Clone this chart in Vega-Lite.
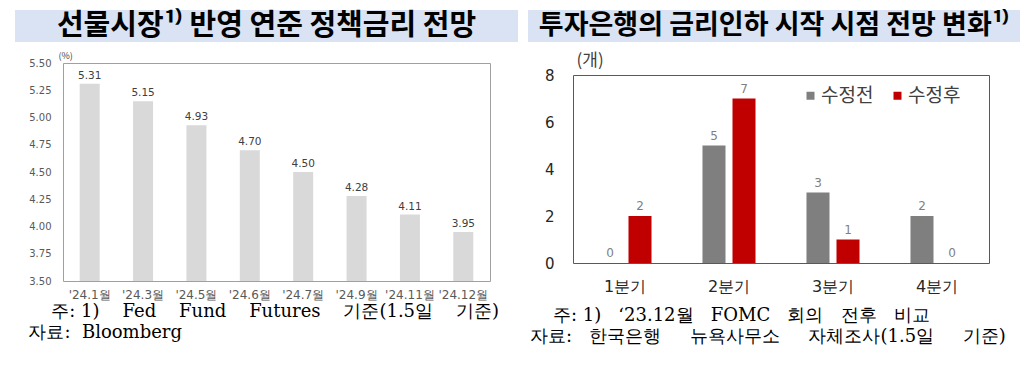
{
  "$schema": "https://vega.github.io/schema/vega-lite/v6.json",
  "background": "white",
  "padding": {"left": 15, "top": 10, "right": 0, "bottom": 0},
  "config": {
    "font": "Noto Sans CJK KR",
    "axis": {"labelFont": "DejaVu Sans", "titleFont": "Noto Sans CJK KR"},
    "legend": {"labelFont": "Noto Sans CJK KR"}
  },
  "spacing": 10,
  "resolve": {"legend": {"color": "independent"}},
  "hconcat": [
    {
      "spacing": 8,
      "vconcat": [
        {
          "width": 503,
          "height": 32,
          "view": {"fill": "#dae3f3", "stroke": null},
          "data": {"values": [{"t": "선물시장¹⁾ 반영 연준 정책금리 전망"}]},
          "mark": {"type": "text", "fontSize": 29, "fontWeight": "bold", "color": "#000000", "baseline": "middle", "align": "center"},
          "encoding": {"text": {"field": "t"}}
        },
        {
          "spacing": 0,
          "hconcat": [
            {"width": 1, "height": 1, "view": {"stroke": null}, "data": {"values": []}, "mark": "point"},
            {
              "width": 427,
              "height": 218,
              "view": {"stroke": "#a0a0a0", "strokeWidth": 1},
              "title": {
                "text": ["\u200b\u00a0\u00a0\u00a0\u00a0\u00a0\u00a0주: 1)\u00a0\u00a0\u00a0 Fed\u00a0\u00a0\u00a0 Fund\u00a0\u00a0\u00a0 Futures\u00a0\u00a0\u00a0 기준(1.5일\u00a0\u00a0\u00a0 기준)", "\u200b\u00a0\u00a0자료:\u00a0 Bloomberg"],
                "orient": "bottom", "anchor": "start", "frame": "group", "dx": -46, "offset": 3,
                "font": "DejaVu Serif", "fontSize": 18, "fontWeight": "normal", "color": "#000000", "lineHeight": 21
              },
              "data": {"values": [
                {"m": "'24.1월", "v": 5.31},
                {"m": "'24.3월", "v": 5.15},
                {"m": "'24.5월", "v": 4.93},
                {"m": "'24.6월", "v": 4.70},
                {"m": "'24.7월", "v": 4.50},
                {"m": "'24.9월", "v": 4.28},
                {"m": "'24.11월", "v": 4.11},
                {"m": "'24.12월", "v": 3.95}
              ]},
              "encoding": {
                "x": {"field": "m", "type": "nominal", "sort": null,
                  "scale": {"paddingInner": 0.625, "paddingOuter": 0.3125},
                  "axis": {"title": null, "domain": false, "ticks": false, "labelAngle": 0, "labelFontSize": 12, "labelColor": "#595959", "labelPadding": 8}},
                "y": {"field": "v", "type": "quantitative",
                  "scale": {"domain": [3.5, 5.5], "nice": false, "zero": false},
                  "axis": {"title": "(%)", "titleAngle": 0, "titleAlign": "left", "titleBaseline": "bottom", "titleX": -5, "titleY": -3, "titleFontSize": 9, "titleFontWeight": "normal", "titleColor": "#404040",
                    "values": [3.5, 3.75, 4, 4.25, 4.5, 4.75, 5, 5.25, 5.5], "format": ".2f", "domain": false, "ticks": false, "grid": false, "labelFontSize": 10, "labelColor": "#595959", "labelPadding": 12}}
              },
              "layer": [
                {"mark": {"type": "bar", "color": "#d9d9d9"}, "encoding": {"y2": {"datum": 3.5}}},
                {"mark": {"type": "text", "font": "DejaVu Sans", "fontSize": 10.5, "color": "#404040", "baseline": "alphabetic", "dy": -5}, "encoding": {"text": {"field": "v", "type": "quantitative", "format": ".2f"}}}
              ]
            }
          ]
        }
      ]
    },
    {
      "spacing": 8,
      "resolve": {"legend": {"color": "independent"}},
      "vconcat": [
        {
          "width": 492,
          "height": 32,
          "view": {"fill": "#dae3f3", "stroke": null},
          "data": {"values": [{"t": "투자은행의 금리인하 시작 시점 전망 변화¹⁾"}]},
          "mark": {"type": "text", "fontSize": 27, "fontWeight": "bold", "color": "#000000", "baseline": "middle", "align": "center"},
          "encoding": {"text": {"field": "t"}}
        },
        {
          "spacing": 0,
          "resolve": {"legend": {"color": "independent"}},
          "hconcat": [
            {"width": 1, "height": 1, "view": {"stroke": null}, "data": {"values": []}, "mark": "point"},
            {
              "width": 416,
              "height": 188,
              "view": {"stroke": "#595959", "strokeWidth": 1},
              "title": {
                "text": ["\u200b\u00a0\u00a0\u00a0\u00a0주: 1)\u00a0\u00a0 ‘23.12월\u00a0\u00a0 FOMC\u00a0\u00a0 회의\u00a0\u00a0 전후\u00a0\u00a0 비교", "자료:\u00a0\u00a0 한국은행\u00a0\u00a0\u00a0\u00a0 뉴욕사무소\u00a0\u00a0\u00a0\u00a0 자체조사(1.5일\u00a0\u00a0\u00a0\u00a0 기준)"],
                "orient": "bottom", "anchor": "start", "frame": "group", "dx": -43, "offset": 13,
                "font": "DejaVu Serif", "fontSize": 18, "fontWeight": "normal", "color": "#000000", "lineHeight": 21
              },
              "data": {"values": [
                {"q": "1분기", "s": "수정전", "n": 0},
                {"q": "1분기", "s": "수정후", "n": 2},
                {"q": "2분기", "s": "수정전", "n": 5},
                {"q": "2분기", "s": "수정후", "n": 7},
                {"q": "3분기", "s": "수정전", "n": 3},
                {"q": "3분기", "s": "수정후", "n": 1},
                {"q": "4분기", "s": "수정전", "n": 2},
                {"q": "4분기", "s": "수정후", "n": 0}
              ]},
              "encoding": {
                "x": {"field": "q", "type": "nominal", "sort": null,
                  "scale": {"paddingInner": 0.49, "paddingOuter": 0.245},
                  "axis": {"title": null, "domain": false, "ticks": false, "labelAngle": 0, "labelFontSize": 16, "labelColor": "#262626", "labelPadding": 15}},
                "xOffset": {"field": "s", "type": "nominal", "sort": ["수정전", "수정후"], "scale": {"paddingInner": 0.233, "paddingOuter": 0}},
                "y": {"field": "n", "type": "quantitative",
                  "scale": {"domain": [0, 8], "nice": false},
                  "axis": {"title": "(개)", "titleAngle": 0, "titleAlign": "left", "titleBaseline": "bottom", "titleX": 3, "titleY": -6, "titleFontSize": 17, "titleFontWeight": "normal", "titleColor": "#404040",
                    "values": [0, 2, 4, 6, 8], "domain": false, "ticks": false, "grid": false, "labelFontSize": 15, "labelColor": "#262626", "labelPadding": 19}}
              },
              "layer": [
                {"mark": {"type": "bar"},
                 "encoding": {"color": {"field": "s", "type": "nominal",
                   "scale": {"domain": ["수정전", "수정후"], "range": ["#7f7f7f", "#c00000"]},
                   "legend": {"title": null, "orient": "none", "legendX": 228, "legendY": 11, "direction": "horizontal", "symbolType": "square", "symbolSize": 64, "symbolStrokeWidth": 0, "symbolOpacity": 1, "labelFontSize": 19, "labelColor": "#404040", "columnPadding": 14, "labelOffset": 1, "padding": 0}}}},
                {"mark": {"type": "text", "font": "DejaVu Sans", "fontSize": 12, "color": "#7f7f7f", "baseline": "alphabetic", "dy": -6}, "encoding": {"text": {"field": "n", "type": "quantitative"}}}
              ]
            }
          ]
        }
      ]
    }
  ]
}
